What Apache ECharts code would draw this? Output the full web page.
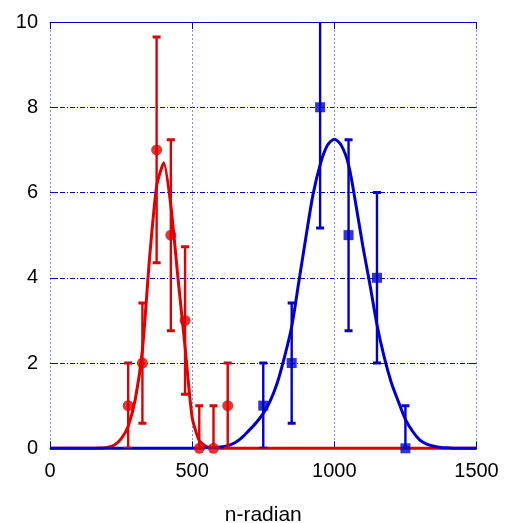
<!DOCTYPE html>
<html><head><meta charset="utf-8">
<script src="https://cdn.jsdelivr.net/npm/echarts@6/dist/echarts.min.js"></script>
<style>html,body{margin:0;padding:0;background:#fff}#c{width:508px;height:523px}</style>
</head><body><div id="c"></div>
<script>
// ---- data ----
const redX  = [275, 325, 375, 425, 475, 525, 575, 625];
const redY  = [1, 2, 7, 5, 3, 0, 0, 1];
const redLo = [0, 0.59, 4.35, 2.76, 1.27, 0, 0, 0];
const redHi = [2, 3.41, 9.65, 7.24, 4.73, 1, 1, 2];

const blueX  = [750, 850, 950, 1050, 1150, 1250];
const blueY  = [1, 2, 8, 5, 4, 0];
const blueLo = [0, 0.59, 5.17, 2.76, 2, 0];
const blueHi = [2, 3.41, 10.83, 7.24, 6, 1];

const redCurveX = [0, 150, 175, 200, 225, 250, 275, 300, 325, 350, 375, 400, 425, 450, 475, 500, 525, 550, 575, 600, 650, 1500];
const redCurveY = [0, 0, 0.005, 0.02, 0.07, 0.22, 0.52, 1.15, 2.3, 4.45, 6.15, 6.7, 5.7, 4.0, 2.38, 0.72, 0.18, 0.04, 0.01, 0, 0, 0];

const blueCurveX = [0, 500, 550, 600, 625, 650, 675, 700, 725, 750, 775, 800, 825, 850, 875, 900, 925, 950, 975, 1000, 1025, 1050, 1075, 1100, 1125, 1150, 1175, 1200, 1225, 1250, 1275, 1300, 1325, 1350, 1375, 1400, 1450, 1500];
const blueCurveY = [0, 0, 0.01, 0.03, 0.06, 0.13, 0.25, 0.42, 0.6, 0.82, 1.12, 1.55, 2.15, 2.85, 3.9, 4.95, 5.95, 6.65, 7.1, 7.25, 7.1, 6.65, 5.75, 4.75, 3.85, 2.9, 2.15, 1.55, 1.1, 0.68, 0.4, 0.2, 0.1, 0.05, 0.02, 0.01, 0, 0];

const xName = 'n-radian';

// ---- build ----
const RED = '#e00000', BLUE = '#0000cc', AX = '#0000cc';
const FONT = 'Liberation Sans';
const zip = (a, b) => a.map((v, i) => [v, b[i]]);
const zip3 = (a, b, c) => a.map((v, i) => [v, b[i], c[i]]);

function errRender(color) {
  return function (params, api) {
    const x = api.value(0), lo = api.value(1), hi = api.value(2);
    const p0 = api.coord([x, lo]), p1 = api.coord([x, hi]);
    const hw = 4;
    return {
      type: 'group',
      children: [
        {type: 'line', shape: {x1: p0[0], y1: p0[1], x2: p1[0], y2: p1[1]}, style: {stroke: color, lineWidth: 2.4}},
        {type: 'line', shape: {x1: p0[0] - hw, y1: p0[1], x2: p0[0] + hw, y2: p0[1]}, style: {stroke: color, lineWidth: 3}},
        {type: 'line', shape: {x1: p1[0] - hw, y1: p1[1], x2: p1[0] + hw, y2: p1[1]}, style: {stroke: color, lineWidth: 3}}
      ]
    };
  };
}

const chart = echarts.init(document.getElementById('c'), null, {renderer: 'canvas'});
chart.setOption({
  animation: false,
  backgroundColor: '#fff',
  grid: {left: 50, right: 31.5, top: 22, bottom: 74.7, containLabel: false, outerBoundsMode: 'none'},
  xAxis: [{
    type: 'value', min: 0, max: 1500, interval: 500, position: 'bottom',
    axisLine: {show: true, onZero: false, lineStyle: {color: AX, width: 1}},
    axisTick: {show: true, inside: true, length: 7, lineStyle: {color: AX}},
    axisLabel: {fontSize: 20, color: '#000', fontFamily: FONT, margin: 13, formatter: v => String(v)},
    splitLine: {show: true, lineStyle: {color: '#8c8cff', width: 1, type: [2, 2]}},
    name: xName, nameLocation: 'middle', nameGap: 56,
    nameTextStyle: {fontSize: 21, color: '#000', fontFamily: FONT}
  }, {
    type: 'value', min: 0, max: 1500, interval: 500, position: 'top',
    axisLine: {show: true, onZero: false, lineStyle: {color: AX, width: 1}},
    axisTick: {show: true, inside: true, length: 7, lineStyle: {color: AX}},
    axisLabel: {show: false}, splitLine: {show: false}
  }],
  yAxis: [{
    type: 'value', min: 0, max: 10, interval: 2, position: 'left',
    axisLine: {show: false},
    axisTick: {show: true, inside: true, length: 8, lineStyle: {color: AX}},
    axisLabel: {fontSize: 20, color: '#000', fontFamily: FONT, margin: 12},
    splitLine: {show: true, lineStyle: {color: AX, width: 1, type: [5, 2, 1, 2]}}
  }, {
    type: 'value', min: 0, max: 10, interval: 2, position: 'right',
    axisLine: {show: false, onZero: false},
    axisTick: {show: true, inside: true, length: 8, lineStyle: {color: AX}},
    axisLabel: {show: false}, splitLine: {show: false}
  }],
  series: [
    {type: 'line', z: 2, data: zip(redCurveX, redCurveY), showSymbol: false, symbol: 'none',
     smooth: 0.2,
     lineStyle: {color: RED, width: 3}, clip: false},
    {type: 'line', z: 3, data: zip(blueCurveX, blueCurveY), showSymbol: false, symbol: 'none',
     smooth: 0.3,
     lineStyle: {color: BLUE, width: 3}, clip: false},
    {type: 'custom', z: 4, renderItem: errRender(RED), data: zip3(redX, redLo, redHi), clip: true},
    {type: 'scatter', z: 5, data: zip(redX, redY), symbol: 'circle', symbolSize: 11,
     itemStyle: {color: RED}},
    {type: 'custom', z: 4, renderItem: errRender(BLUE), data: zip3(blueX, blueLo, blueHi), clip: true},
    {type: 'scatter', z: 5, data: zip(blueX, blueY), symbol: 'rect', symbolSize: 10,
     itemStyle: {color: BLUE}}
  ]
});
</script>
</body></html>
